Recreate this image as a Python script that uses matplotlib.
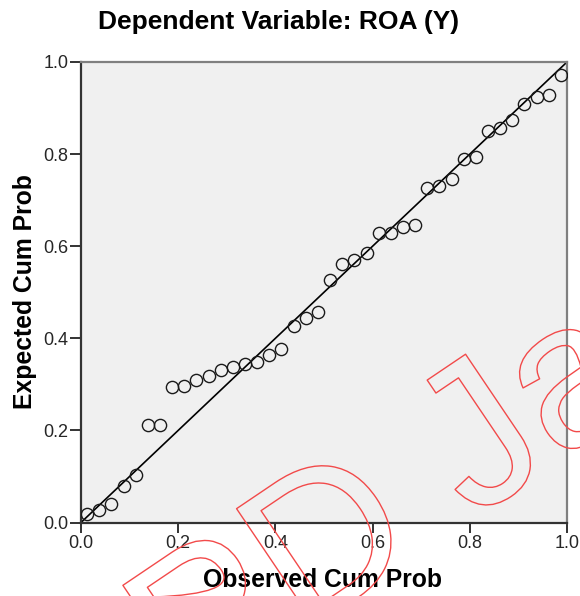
#!/usr/bin/env python3
"""Normal P-P plot of regression standardized residual"""
import matplotlib.pyplot as plt
import matplotlib.patheffects as pe

plt.rcParams['font.family'] = ['Liberation Sans', 'DejaVu Sans']

# observed vs expected cumulative probability (40 cases)
observed = [0.0125, 0.0375, 0.0625, 0.0875, 0.1125, 0.1375, 0.1625, 0.1875,
            0.2125, 0.2375, 0.2625, 0.2875, 0.3125, 0.3375, 0.3625, 0.3875,
            0.4125, 0.4375, 0.4625, 0.4875, 0.5125, 0.5375, 0.5625, 0.5875,
            0.6125, 0.6375, 0.6625, 0.6875, 0.7125, 0.7375, 0.7625, 0.7875,
            0.8125, 0.8375, 0.8625, 0.8875, 0.9125, 0.9375, 0.9625, 0.9875]
expected = [0.018, 0.027, 0.040, 0.079, 0.103, 0.211, 0.211, 0.295,
            0.297, 0.309, 0.319, 0.331, 0.338, 0.344, 0.349, 0.364,
            0.376, 0.427, 0.443, 0.457, 0.527, 0.561, 0.570, 0.585,
            0.629, 0.629, 0.642, 0.645, 0.726, 0.731, 0.746, 0.790,
            0.793, 0.851, 0.857, 0.874, 0.908, 0.925, 0.928, 0.971]
ref_line = [0.0, 1.0]
ticks = [0.0, 0.2, 0.4, 0.6, 0.8, 1.0]
tick_labels = ['0.0', '0.2', '0.4', '0.6', '0.8', '1.0']

W, H = 580, 596
fig = plt.figure(figsize=(W / 100, H / 100), dpi=100)
ax = fig.add_axes([81 / W, 1 - 522.5 / H, 486 / W, 460.5 / H])
ax.set_facecolor('#f0f0f0')

ax.plot(ref_line, ref_line, color='black', lw=1.2, zorder=2)
ax.plot(observed, expected, linestyle='none', marker='o', markersize=8.8,
        markerfacecolor='none', markeredgecolor='#1a1a1a',
        markeredgewidth=1.0, zorder=3)

ax.set_xlim(0, 1)
ax.set_ylim(0, 1)
ax.set_xticks(ticks)
ax.set_xticklabels(tick_labels)
ax.set_yticks(ticks)
ax.set_yticklabels(tick_labels)
ax.tick_params(axis='x', length=7, width=1.4, pad=2, labelsize=13,
               color='#333333', labelcolor='#262626')
ax.tick_params(axis='y', length=8, width=1.4, pad=1, labelsize=13,
               color='#333333', labelcolor='#262626')

for side in ['left', 'bottom']:
    ax.spines[side].set_color('#333333')
    ax.spines[side].set_linewidth(1.6)
for side in ['top', 'right']:
    ax.spines[side].set_color('#808080')
    ax.spines[side].set_linewidth(1.6)

fig.text(279 / W, 1 - 22 / H, 'Dependent Variable: ROA (Y)',
         ha='center', va='center', fontsize=19, fontweight='bold')
fig.text(323 / W, 1 - 580 / H, 'Observed Cum Prob',
         ha='center', va='center', fontsize=17.8, fontweight='bold')
fig.text(25 / W, 1 - 292 / H, 'Expected Cum Prob', rotation=90,
         ha='center', va='center', fontsize=17.8, fontweight='bold')

# red outlined watermark across the lower right
fig.text(188 / W, 1 - 712 / H, 'PD Java', rotation=34,
         rotation_mode='anchor', ha='left', va='baseline',
         fontsize=148, color='none',
         path_effects=[pe.Stroke(linewidth=1.0, foreground='#f24a4a')])

fig.savefig('out.png', dpi=100)
